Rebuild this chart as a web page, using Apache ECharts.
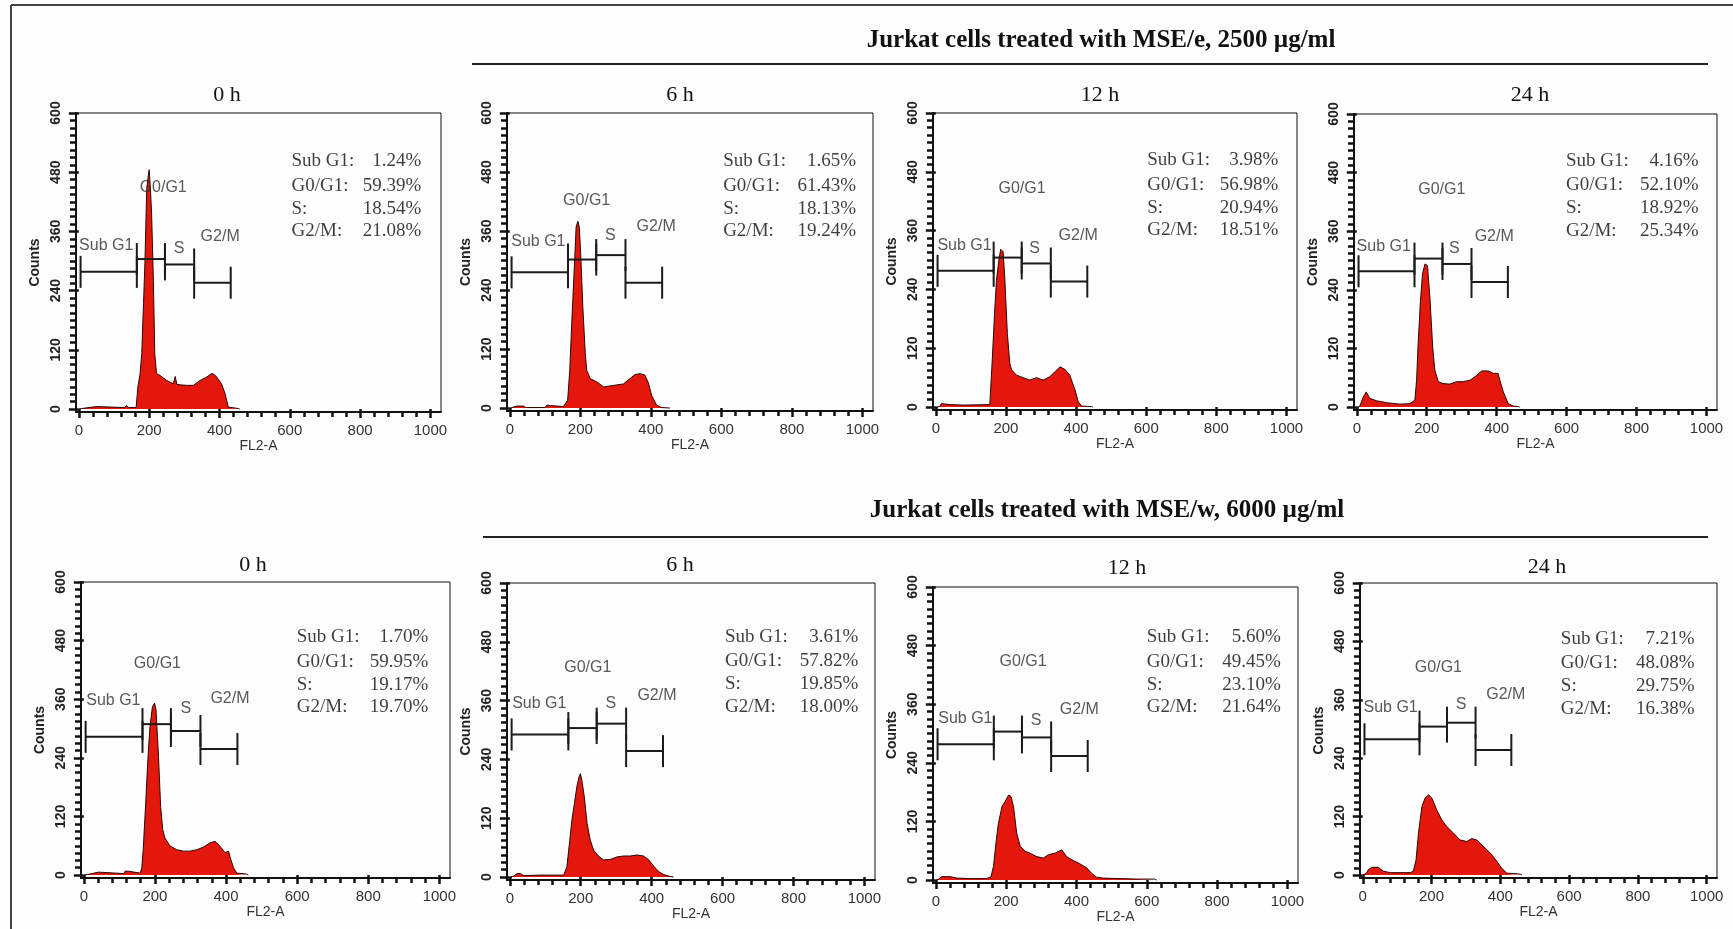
<!DOCTYPE html>
<html>
<head>
<meta charset="utf-8">
<title>Jurkat cell cycle histograms</title>
<script src="https://cdn.jsdelivr.net/npm/echarts@6/dist/echarts.min.js"></script>
<style>
  html, body { margin: 0; padding: 0; background: #fdfdfd; }
  #chart { width: 1733px; height: 929px; }
</style>
</head>
<body>
<div id="chart"></div>
<script>
// ---- data ----
const groupTitles = ['Jurkat cells treated with MSE/e, 2500 µg/ml', 'Jurkat cells treated with MSE/w, 6000 µg/ml']
const panelTitles = ['0 h', '6 h', '12 h', '24 h', '0 h', '6 h', '12 h', '24 h']
const channelLabels = [0, 200, 400, 600, 800, 1000]
const countLabels = [0, 120, 240, 360, 480, 600]
const phaseNames = ['Sub G1:', 'G0/G1:', 'S:', 'G2/M:']
const gateNames = ['Sub G1', 'G0/G1', 'S', 'G2/M']
const gateRanges = [[5, 165], [165, 245], [245, 328], [328, 432]]

// [FL2-A channel, counts]
const histE0 = [[0,0],[8,1],[12,5],[50,5],[55,2],[130,3],[136,7],[142,3],[163,3],[168,45],[174,70],[179,112],[184,214],[188,295],[193,444],[197,470],[200,485],[204,440],[207,397],[212,261],[216,112],[221,72],[231,68],[250,58],[269,51],[274,66],[279,50],[288,49],[307,48],[326,48],[345,58],[364,65],[378,72],[385,70],[392,65],[406,51],[416,31],[425,4],[430,1],[454,1],[458,0]]
const histE6 = [[0,0],[6,1],[20,4],[39,4],[45,1],[100,1],[105,6],[115,5],[120,1],[152,3],[164,16],[170,77],[176,179],[183,287],[188,368],[193,380],[197,368],[201,314],[207,206],[214,111],[218,77],[228,60],[247,53],[266,43],[284,45],[303,47],[322,49],[341,60],[355,68],[369,70],[383,67],[393,51],[402,26],[416,6],[431,1],[454,0]]
const histE12 = [[0,0],[11,1],[16,7],[40,5],[45,3],[78,4],[154,5],[156,7],[161,96],[167,184],[173,259],[180,300],[185,322],[192,317],[197,259],[204,150],[211,89],[216,76],[230,65],[249,60],[268,55],[287,60],[306,55],[325,62],[340,72],[354,82],[368,77],[382,65],[397,35],[406,11],[416,2],[444,1],[448,0]]
const histE24 = [[0,0],[8,1],[13,10],[18,20],[22,24],[27,31],[37,18],[56,13],[85,9],[123,6],[152,7],[166,14],[171,55],[175,123],[182,218],[188,273],[195,293],[202,290],[209,225],[217,123],[223,76],[233,52],[247,48],[266,47],[285,52],[304,52],[324,55],[343,65],[357,74],[376,74],[390,69],[404,69],[409,55],[419,31],[433,7],[448,2],[462,1],[466,0]]
const histW0 = [[0,0],[17,2],[22,6],[41,6],[46,3],[112,3],[116,8],[125,8],[130,4],[158,4],[163,14],[167,52],[174,147],[180,236],[186,304],[193,345],[199,352],[203,338],[210,243],[216,140],[222,93],[228,76],[242,60],[261,52],[280,49],[299,49],[318,52],[336,57],[355,66],[369,69],[383,59],[397,46],[407,49],[413,33],[421,15],[430,4],[458,2],[463,0]]
const histW6 = [[0,0],[11,2],[20,7],[30,7],[39,3],[86,4],[152,4],[156,7],[161,21],[169,75],[175,116],[182,150],[189,184],[195,204],[199,211],[203,198],[210,164],[218,109],[227,75],[236,55],[250,43],[264,35],[283,36],[302,41],[321,43],[340,43],[359,45],[377,43],[392,35],[406,22],[420,11],[434,5],[453,1],[462,0]]
const histW12 = [[0,0],[8,2],[17,7],[41,7],[60,4],[98,3],[145,3],[157,7],[164,28],[172,82],[178,116],[188,150],[197,161],[207,174],[214,171],[221,150],[230,96],[240,69],[254,59],[268,55],[287,48],[306,45],[320,52],[339,55],[358,62],[372,48],[391,40],[410,33],[429,25],[443,14],[457,6],[476,4],[524,3],[571,2],[623,2],[628,0]]
const histW24 = [[0,0],[11,4],[16,11],[26,16],[45,16],[60,8],[80,5],[138,5],[147,8],[155,31],[162,86],[172,141],[181,158],[191,165],[201,158],[215,134],[230,113],[244,100],[264,86],[283,72],[303,69],[317,75],[332,72],[346,62],[361,52],[375,42],[390,28],[404,14],[419,4],[458,2],[463,0]]

// percentages per phase
const pctE0 = ['1.24%', '59.39%', '18.54%', '21.08%']
const pctE6 = ['1.65%', '61.43%', '18.13%', '19.24%']
const pctE12 = ['3.98%', '56.98%', '20.94%', '18.51%']
const pctE24 = ['4.16%', '52.10%', '18.92%', '25.34%']
const pctW0 = ['1.70%', '59.95%', '19.17%', '19.70%']
const pctW6 = ['3.61%', '57.82%', '19.85%', '18.00%']
const pctW12 = ['5.60%', '49.45%', '23.10%', '21.64%']
const pctW24 = ['7.21%', '48.08%', '29.75%', '16.38%']

// gate marker heights (counts) for Sub G1, G0/G1, S, G2/M
const gateLevels = [
  [278, 304, 293, 256], [276, 302, 311, 255], [278, 305, 293, 256], [278, 304, 293, 256],
  [283, 309, 295, 258], [291, 304, 313, 257], [278, 304, 292, 254], [279, 305, 313, 257]
]

const hists = [histE0, histE6, histE12, histE24, histW0, histW6, histW12, histW24]
const pcts = [pctE0, pctE6, pctE12, pctE24, pctW0, pctW6, pctW12, pctW24]

// ---- layout ----
const boxes = [
  [76, 113, 365, 299], [507, 113, 366, 298], [933, 113, 364, 297], [1354, 114, 363, 296],
  [81, 582, 369, 296], [507, 583, 368, 297], [933, 587, 365, 296], [1360, 583, 357, 295]
]
const titlePos = [[227, 95], [680, 95], [1100, 95], [1530, 95], [253, 565], [680, 565], [1127, 568], [1547, 567]]
// gate label anchors in data units
const gateTextPos = [
  [[78, 331], [240, 448], [285, 326], [402, 350]],
  [[81, 339], [218, 422], [285, 350], [415, 368]],
  [[82, 329], [246, 446], [282, 324], [406, 349]],
  [[77, 329], [243, 446], [279, 324], [393, 349]],
  [[83, 358], [207, 433], [287, 340], [411, 362]],
  [[83, 354], [220, 427], [285, 353], [415, 371]],
  [[84, 330], [248, 448], [285, 326], [408, 350]],
  [[81, 345], [220, 426], [286, 351], [416, 370]]
]
// stats block: label left x, value right x, first line y (data units)
const statsPos = [
  [605, 974, 503], [605, 982, 502], [603, 977, 504], [598, 977, 504],
  [599, 969, 487], [607, 983, 490], [600, 981, 497], [576, 965, 485]
]
const statsStep = [0, 50, 97, 143]

const X_MIN = -8, X_MAX = 1030, Y_MIN = -6, Y_MAX = 600
const RED = '#e3170b'
const sans = 'Liberation Sans'
const serif = 'Liberation Serif'

function range(a, b, step) {
  const out = []
  for (let v = a; v <= b; v += step) out.push(v)
  return out
}

const grid = [], xAxis = [], yAxis = [], series = [], graphic = []
const plain = v => String(v)
const tickStyle = { color: '#111', width: 2.5 }

boxes.forEach((b, i) => {
  grid.push({
    left: b[0], top: b[1], width: b[2], height: b[3],
    show: true, borderColor: '#111', borderWidth: 1, backgroundColor: 'transparent'
  })
  // minor ticks + labels
  xAxis.push({
    gridIndex: i, type: 'value', min: X_MIN, max: X_MAX, position: 'bottom',
    name: 'FL2-A', nameLocation: 'middle', nameGap: 26,
    nameTextStyle: { fontFamily: sans, fontSize: 14, color: '#333' },
    axisLine: { onZero: false, lineStyle: { color: '#111', width: 2 } },
    axisTick: { customValues: range(0, 1000, 40), length: 5, lineStyle: tickStyle },
    axisLabel: { customValues: channelLabels, formatter: plain, margin: 11, fontFamily: sans, fontSize: 15, color: '#333' },
    splitLine: { show: false }
  })
  // long ticks at labelled channels
  xAxis.push({
    gridIndex: i, type: 'value', min: X_MIN, max: X_MAX, position: 'bottom',
    axisLine: { show: false },
    axisTick: { customValues: channelLabels, length: 9, lineStyle: tickStyle },
    axisLabel: { show: false },
    splitLine: { show: false }
  })
  yAxis.push({
    gridIndex: i, type: 'value', min: Y_MIN, max: Y_MAX, position: 'left',
    name: 'Counts', nameLocation: 'middle', nameGap: 34,
    nameTextStyle: { fontFamily: sans, fontSize: 14, fontWeight: 'bold', color: '#222' },
    axisLine: { onZero: false, lineStyle: { color: '#111', width: 2 } },
    axisTick: { customValues: range(0, 600, 15), length: 6, lineStyle: tickStyle },
    axisLabel: { customValues: countLabels, formatter: plain, rotate: 90, margin: 13, fontFamily: sans, fontSize: 14, fontWeight: 'bold', color: '#222' },
    splitLine: { show: false }
  })
  yAxis.push({
    gridIndex: i, type: 'value', min: Y_MIN, max: Y_MAX, position: 'left',
    axisLine: { show: false },
    axisTick: { customValues: countLabels, length: 10, lineStyle: tickStyle },
    axisLabel: { show: false },
    splitLine: { show: false }
  })

  const xi = i * 2, yi = i * 2

  series.push({
    type: 'line', xAxisIndex: xi, yAxisIndex: yi, data: hists[i],
    symbol: 'none', z: 2,
    lineStyle: { color: '#2a0603', width: 1 },
    areaStyle: { color: RED, opacity: 1 }
  })

  series.push({
    type: 'custom', xAxisIndex: xi, yAxisIndex: yi, z: 4, silent: true,
    encode: { x: [0, 1], y: 2 },
    data: gateRanges.map((g, k) => [g[0], g[1], gateLevels[i][k]]),
    renderItem(params, api) {
      const a = api.coord([api.value(0), api.value(2)])
      const c = api.coord([api.value(1), api.value(2)])
      const h = 16
      const style = { stroke: '#1b1b1b', lineWidth: 2 }
      return {
        type: 'group',
        children: [
          { type: 'line', shape: { x1: a[0], y1: a[1], x2: c[0], y2: c[1] }, style },
          { type: 'line', shape: { x1: a[0], y1: a[1] - h, x2: a[0], y2: a[1] + h }, style },
          { type: 'line', shape: { x1: c[0], y1: c[1] - h, x2: c[0], y2: c[1] + h }, style }
        ]
      }
    }
  })

  series.push({
    type: 'scatter', xAxisIndex: xi, yAxisIndex: yi, symbolSize: 0, silent: true, z: 5,
    data: gateNames.map((n, k) => ({ name: n, value: gateTextPos[i][k] })),
    label: {
      show: true, position: [0, 0], formatter: '{b}', align: 'center', verticalAlign: 'middle',
      fontFamily: sans, fontSize: 16, color: '#2e2e2e'
    }
  })

  const sp = statsPos[i]
  const statsData = []
  phaseNames.forEach((n, k) => {
    statsData.push({ name: n, value: [sp[0], sp[2] - statsStep[k]], label: { align: 'left' } })
    statsData.push({ name: pcts[i][k], value: [sp[1], sp[2] - statsStep[k]], label: { align: 'right' } })
  })
  series.push({
    type: 'scatter', xAxisIndex: xi, yAxisIndex: yi, symbolSize: 0, silent: true, z: 5,
    data: statsData,
    label: {
      show: true, position: [0, 0], formatter: '{b}', verticalAlign: 'middle',
      fontFamily: serif, fontSize: 19, color: '#0d0d0d'
    }
  })

  graphic.push({
    type: 'text', x: titlePos[i][0], y: titlePos[i][1],
    style: { text: panelTitles[i], textAlign: 'center', textVerticalAlign: 'middle', font: '22px "Liberation Serif"', fill: '#111' }
  })
})

// group headings and rules
graphic.push(
  { type: 'text', x: 1101, y: 41, style: { text: groupTitles[0], textAlign: 'center', textVerticalAlign: 'middle', font: 'bold 25px "Liberation Serif"', fill: '#111' } },
  { type: 'text', x: 1107, y: 511, style: { text: groupTitles[1], textAlign: 'center', textVerticalAlign: 'middle', font: 'bold 25px "Liberation Serif"', fill: '#111' } },
  { type: 'line', shape: { x1: 472, y1: 64, x2: 1708, y2: 64 }, style: { stroke: '#222', lineWidth: 2 } },
  { type: 'line', shape: { x1: 483, y1: 537, x2: 1708, y2: 537 }, style: { stroke: '#222', lineWidth: 2 } },
  { type: 'line', shape: { x1: 11, y1: 5, x2: 1733, y2: 5 }, style: { stroke: '#444', lineWidth: 2 } },
  { type: 'line', shape: { x1: 11, y1: 5, x2: 11, y2: 929 }, style: { stroke: '#444', lineWidth: 2 } }
)

const chart = echarts.init(document.getElementById('chart'))
chart.setOption({
  backgroundColor: '#fdfdfd',
  animation: false,
  grid, xAxis, yAxis, series, graphic
})
</script>
</body>
</html>
